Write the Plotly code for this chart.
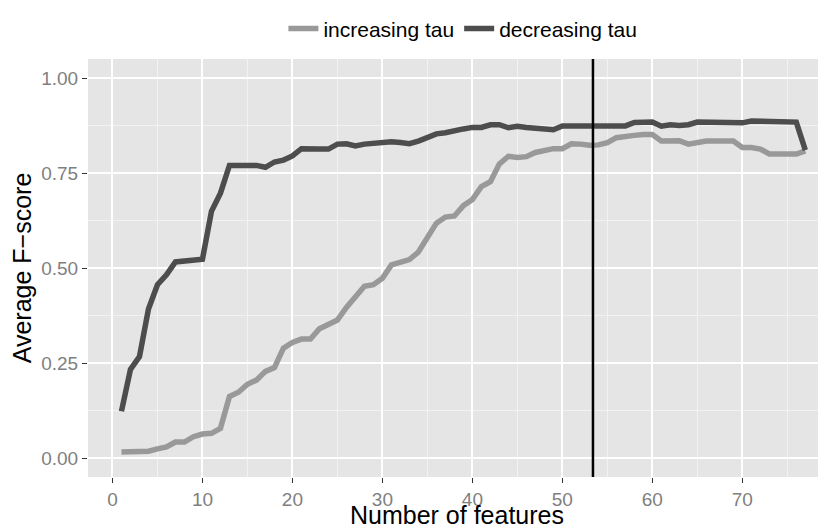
import plotly.graph_objects as go

n_features = list(range(1, 78))

increasing_tau = [
    0.0155, 0.0155, 0.016, 0.018, 0.024, 0.029, 0.042, 0.042, 0.056, 0.063,
    0.065, 0.078, 0.162, 0.173, 0.194, 0.205, 0.228, 0.238, 0.289, 0.304,
    0.313, 0.313, 0.340, 0.353, 0.363, 0.396, 0.426, 0.452, 0.456, 0.473,
    0.508, 0.516, 0.522, 0.542, 0.581, 0.618, 0.634, 0.637, 0.664, 0.680,
    0.714, 0.727, 0.774, 0.794, 0.791, 0.793, 0.804, 0.808, 0.814, 0.814,
    0.827, 0.826, 0.823, 0.824, 0.830, 0.843, 0.847, 0.849, 0.851, 0.851,
    0.834, 0.835, 0.835, 0.826, 0.831, 0.834, 0.834, 0.834, 0.834, 0.817,
    0.817, 0.813, 0.800, 0.800, 0.800, 0.800, 0.808,
]

decreasing_tau = [
    0.123, 0.233, 0.267, 0.392, 0.456, 0.482, 0.516, 0.518, 0.523, 0.523,
    0.649, 0.697, 0.770, 0.770, 0.770, 0.770, 0.765, 0.779, 0.784, 0.795,
    0.814, 0.815, 0.813, 0.813, 0.826, 0.827, 0.821, 0.826, 0.828, 0.828,
    0.832, 0.830, 0.827, 0.834, 0.845, 0.853, 0.856, 0.862, 0.866, 0.870,
    0.870, 0.877, 0.877, 0.869, 0.873, 0.870, 0.867, 0.864, 0.864, 0.874,
    0.874, 0.875, 0.875, 0.875, 0.873, 0.873, 0.874, 0.883, 0.885, 0.884,
    0.873, 0.877, 0.875, 0.877, 0.884, 0.883, 0.882, 0.882, 0.883, 0.882,
    0.887, 0.886, 0.884, 0.884, 0.884, 0.884, 0.810,
]

series_names = ["increasing tau", "decreasing tau"]
series_colors = ["#999999", "#4D4D4D"]
cutoff_x = 53.4

x_ticks = [0, 10, 20, 30, 40, 50, 60, 70]
y_ticks = [0.0, 0.25, 0.5, 0.75, 1.0]

FONT = "Liberation Sans, Arial, Helvetica, sans-serif"

fig = go.Figure()
for name, vals, col in zip(series_names, [increasing_tau, decreasing_tau], series_colors):
    fig.add_trace(go.Scatter(
        x=n_features, y=vals, mode="lines", name=name,
        line=dict(color=col, width=5.5),
    ))

fig.add_shape(type="line", xref="x", yref="paper", x0=cutoff_x, x1=cutoff_x,
              y0=0, y1=1, line=dict(color="black", width=2.5))

# the page body has an 8px margin, so the figure is sized to fit the 826x529 window
fig.update_layout(
    width=818, height=521,
    margin=dict(l=80, r=0, t=40, b=52),
    paper_bgcolor="white",
    plot_bgcolor="#E5E5E5",
    font=dict(family=FONT),
    legend=dict(
        orientation="h", x=0.508, xanchor="center", y=1.072, yanchor="middle",
        font=dict(size=21, color="black"), bgcolor="rgba(0,0,0,0)",
        itemwidth=30, traceorder="normal",
    ),
    showlegend=True,
)

fig.update_xaxes(
    range=[-2.72, 79.3],
    tickvals=x_ticks,
    ticks="outside", ticklen=5, tickcolor="#333333", tickwidth=1,
    tickfont=dict(size=19, color="#7F7F7F", family=FONT),
    showgrid=True, gridcolor="white", gridwidth=1.8,
    minor=dict(dtick=5, tick0=0, showgrid=True, gridcolor="#F2F2F2", gridwidth=1),
    zeroline=False, showline=False,
    title=dict(text="Number of features", font=dict(size=25, color="black", family=FONT), standoff=3),
    automargin=False,
)
fig.update_yaxes(
    range=[-0.05, 1.05],
    tickvals=y_ticks, tickformat=".2f",
    ticks="outside", ticklen=5, tickcolor="#333333", tickwidth=1,
    tickfont=dict(size=19, color="#7F7F7F", family=FONT),
    showgrid=True, gridcolor="white", gridwidth=1.8,
    minor=dict(dtick=0.125, tick0=0, showgrid=True, gridcolor="#F2F2F2", gridwidth=1),
    zeroline=False, showline=False,
    title=dict(text="Average F−score", font=dict(size=25, color="black", family=FONT), standoff=2),
    automargin=False,
)

fig.write_html("out.html")
